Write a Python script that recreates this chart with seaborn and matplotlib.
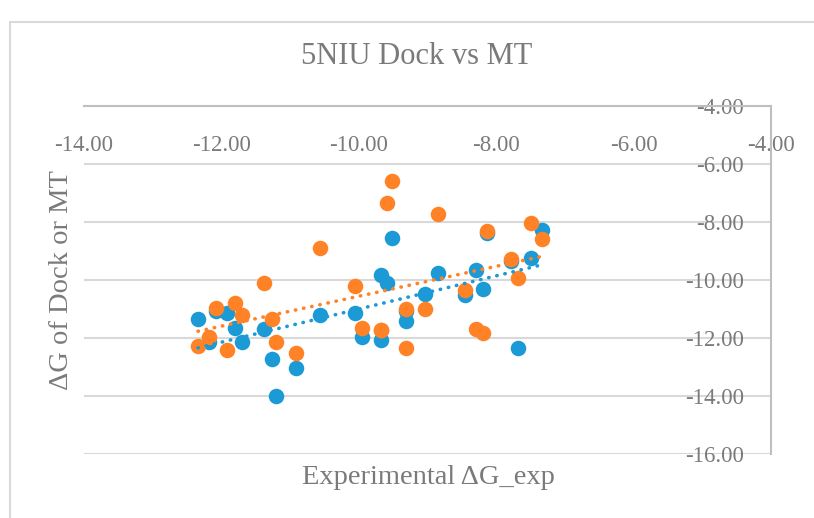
import numpy as np
import matplotlib
matplotlib.use("Agg")
import matplotlib.pyplot as plt
import matplotlib.patches as patches
import seaborn as sns

# valores (ΔG experimental vs Dock / MT)
x_exp = [-12.34, -12.18, -12.08, -11.92, -11.80, -11.70, -11.38, -11.27, -11.21, -10.92,
         -10.56, -10.05, -9.96, -9.68, -9.68, -9.59, -9.51, -9.32, -9.32, -9.03,
         -8.84, -8.46, -8.29, -8.19, -8.14, -7.79, -7.68, -7.49, -7.33]
dock = [-11.34, -12.13, -11.06, -11.13, -11.67, -12.13, -11.69, -12.73, -14.00, -13.02,
        -11.21, -11.13, -11.98, -12.07, -9.84, -10.09, -8.55, -11.40, -11.07, -10.49,
        -9.77, -10.53, -9.66, -10.30, -8.39, -9.34, -12.34, -9.25, -8.26]
mt = [-12.27, -11.96, -10.98, -12.41, -10.80, -11.21, -10.11, -11.36, -12.13, -12.53,
      -8.89, -10.21, -11.64, -11.74, -11.74, -7.36, -6.59, -11.01, -12.33, -11.01,
      -7.73, -10.34, -11.69, -11.83, -8.30, -9.27, -9.94, -8.04, -8.60]

x_ticks = [-14, -12, -10, -8, -6, -4]
y_ticks = [-4, -6, -8, -10, -12, -14, -16]

azul = '#1C9AD6'
laranja = '#FF8326'
cinza_txt = '#7a7a7a'

sns.set_style('white')
plt.rcParams['font.family'] = ['Liberation Serif', 'DejaVu Serif']

fig = plt.figure(figsize=(8.14, 5.18), dpi=100)
ax = fig.add_axes([84 / 814, 1 - 454 / 518, 687 / 814, 348 / 518])

sns.scatterplot(x=x_exp, y=dock, color=azul, s=125, linewidth=0, ax=ax, zorder=2)
sns.scatterplot(x=x_exp, y=mt, color=laranja, s=125, linewidth=0, ax=ax, zorder=2)

estilo = dict(linestyle=(0, (0.1, 2.2)), dash_capstyle='round', lw=2.6, zorder=4)
sns.regplot(x=np.array(x_exp), y=np.array(dock), scatter=False, ci=None, ax=ax,
            line_kws=dict(color=azul, **estilo))
sns.regplot(x=np.array(x_exp), y=np.array(mt), scatter=False, ci=None, ax=ax,
            line_kws=dict(color=laranja, **estilo))

ax.set_xlim(-14, -4)
ax.set_ylim(-16, -4)
ax.set_xticks(x_ticks)
ax.set_yticks(y_ticks)
ax.set_xticklabels([f'{v:.2f}' for v in x_ticks])
ax.set_yticklabels([f'{v:.2f}' for v in y_ticks])
ax.set_xlabel('')
ax.set_ylabel('')

# eixos cruzando em -4 (estilo Excel)
ax.spines['bottom'].set_position(('data', -4))
ax.spines['left'].set_position(('data', -4))
ax.spines['top'].set_visible(False)
ax.spines['right'].set_visible(False)
for s in ['bottom', 'left']:
    ax.spines[s].set_color('#bfbfbf')
    ax.spines[s].set_linewidth(1.5)

ax.tick_params(axis='x', direction='out', length=5, width=1.3, color='#bfbfbf',
               labelsize=16.5, labelcolor=cinza_txt, pad=16)
ax.tick_params(axis='y', direction='out', length=4.5, width=1.3, color='#bfbfbf',
               labelsize=16.5, labelcolor=cinza_txt, pad=15)
ax.yaxis.grid(True, color='#d9d9d9', lw=1.5)
ax.xaxis.grid(False)
ax.set_axisbelow(True)
ax.patch.set_alpha(0)

fig.text(417 / 814, 1 - 57 / 518, '5NIU Dock vs MT', ha='center', va='center',
         fontsize=22, color=cinza_txt)
fig.text(428 / 814, 1 - 478 / 518, 'Experimental ΔG_exp', ha='center', va='center',
         fontsize=20.5, color=cinza_txt)
fig.text(62 / 814, 1 - 280 / 518, 'ΔG of Dock or MT', ha='center', va='center',
         rotation=90, fontsize=20.5, color=cinza_txt)

moldura = patches.Rectangle((10 / 814, -0.1), 1.2, 1.1 - 22 / 518,
                            transform=fig.transFigure, fill=False,
                            edgecolor='#d9d9d9', lw=1.5, clip_on=False)
fig.patches.append(moldura)

plt.savefig('out.png', dpi=100)
